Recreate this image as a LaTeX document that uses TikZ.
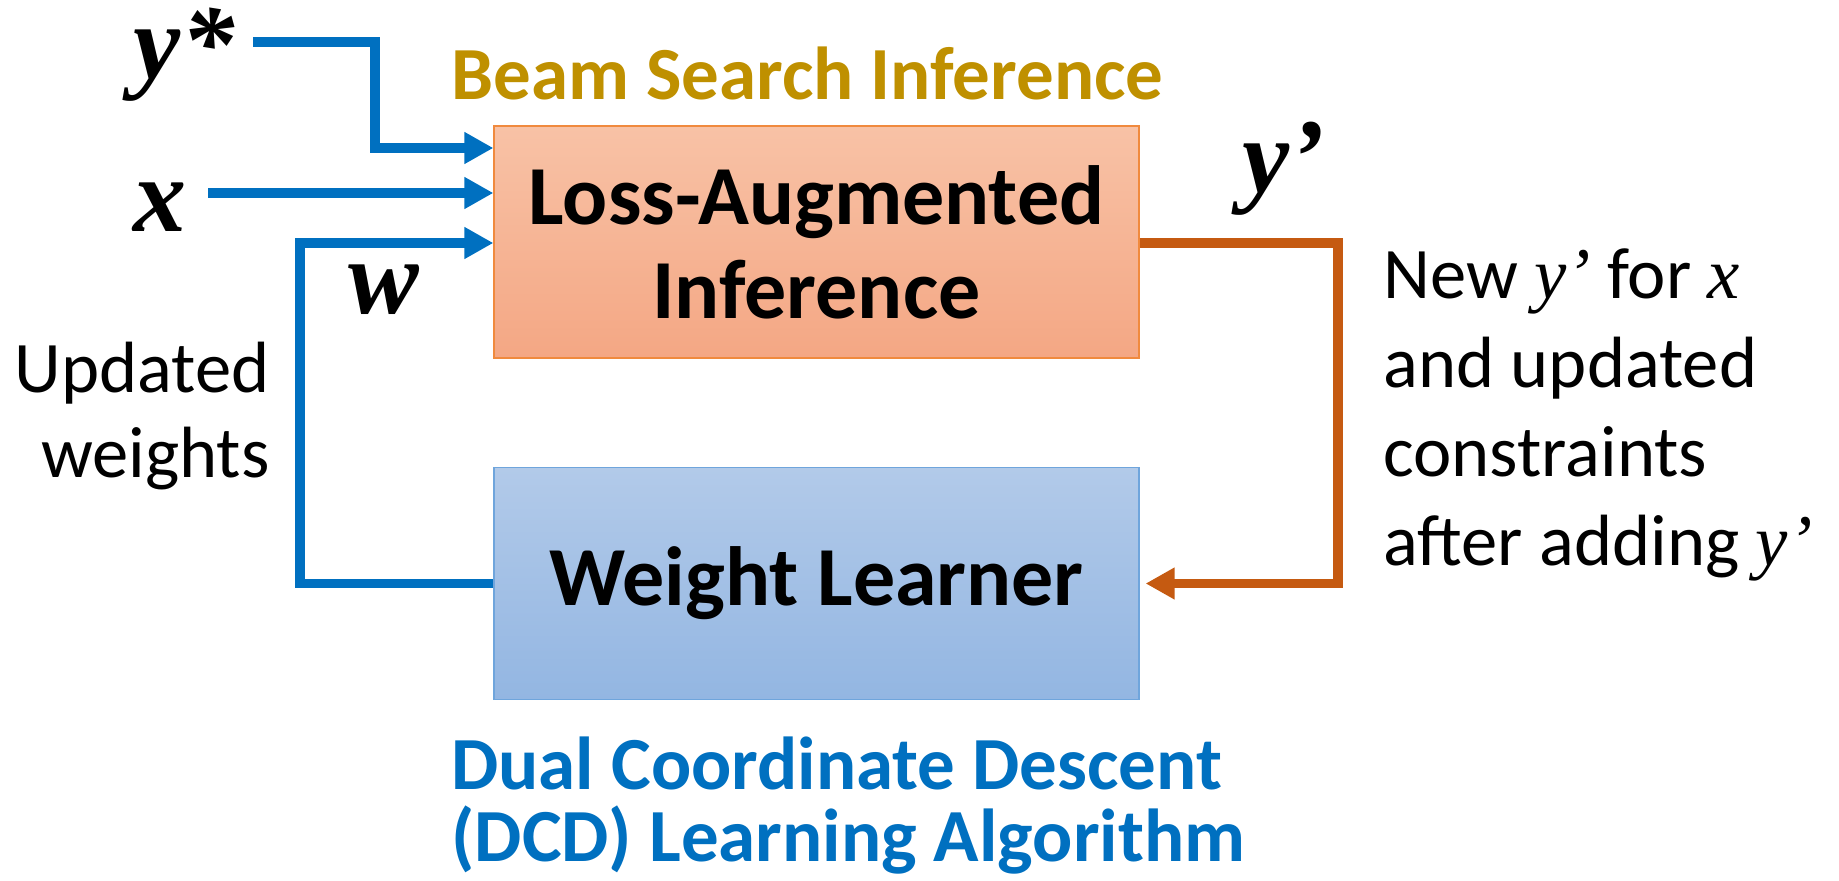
\documentclass[tikz,border=0pt]{standalone}
\usepackage{fontspec}
\setmainfont{Carlito}
\newfontfamily\lblfont{Liberation Serif}
\usetikzlibrary{arrows.meta,positioning}
\definecolor{inblue}{HTML}{0070C0}
\definecolor{fbbrown}{HTML}{C55A11}
\definecolor{beamgold}{HTML}{BF9000}
\definecolor{inftop}{HTML}{F8C2A6}
\definecolor{infbot}{HTML}{F4A784}
\definecolor{infline}{HTML}{F08A3E}
\definecolor{lrntop}{HTML}{B2CAE9}
\definecolor{lrnbot}{HTML}{93B6E2}
\definecolor{lrnline}{HTML}{6FA5DC}
\tikzset{
  >={Triangle[length=14.5pt,width=15pt]},
  box/.style   ={draw, line width=0.6pt, minimum width=322.5pt, minimum height=116pt, inner sep=0pt,
                 align=center, font=\fontsize{42}{47}\selectfont\bfseries},
  infbox/.style={box, draw=infline, top color=inftop, bottom color=infbot},
  lrnbox/.style={box, draw=lrnline, top color=lrntop, bottom color=lrnbot},
  inarr/.style ={->, draw=inblue, line width=4.75pt},
  fbarr/.style ={->, draw=fbbrown, line width=4.75pt},
  var/.style   ={inner sep=0pt, font=\fontsize{53}{53}\selectfont\lblfont\bfseries\itshape},
  note/.style  ={inner sep=0pt, font=\fontsize{36.3}{44.5}\selectfont},
  captxt/.style={inner sep=0pt, align=left, font=\fontsize{37.5}{36}\selectfont\bfseries}
}
\newcommand{\mv}[1]{{\lblfont\itshape #1}}

\begin{document}
\begin{tikzpicture}[x=0.5pt,y=-0.5pt]
\useasboundingbox (0,0) rectangle (1839,881);
% boxes
\node[infbox] (lai) at (816.5,242) {Loss-Augmented\\Inference};
\node[lrnbox] (wl)  at (816.5,583.5) {Weight Learner};
\node[captxt, text=beamgold, anchor=base west] (beam) at (451,100) {Beam Search Inference};
\node[captxt, text=inblue, anchor=base west] (dcd) at (451,861) {Dual Coordinate Descent\\(DCD) Learning Algorithm};
% inputs
\node[var] (ystar) at (184,55) {y*};
\node[var] (xin)   at (160,207) {x};
\node[var] (win)   at (384,290) {w};
\node[var] (yprime) at (1284,169) {y’};
\coordinate (ys0) at (253,42);
\coordinate (ys1) at (375,148);
\coordinate (xs0) at (208,193);
\coordinate (ws1) at (300,243);
\coordinate (fb1) at (1338,243);
\draw[inarr] (ys0) -| (ys1) -- (lai.west |- ys1);
\draw[inarr] (xs0) -- (lai.west |- xs0);
\draw[inarr] (wl.west) -| (ws1) -- (lai.west |- ws1);
\draw[fbarr, shorten >=3pt] (lai.east |- fb1) -| (fb1 |- wl.east) -- (wl.east);
% side notes
\node[note, align=right, anchor=base east, font=\fontsize{36.3}{42.5}\selectfont] (updw) at (270,477) {Updated\\weights};
\node[note, align=left, anchor=base west] (newy) at (1383,565)
  {New \mv{y’} for \mv{x}\\and updated\\constraints\\after adding \mv{y’}};
\end{tikzpicture}
\end{document}
